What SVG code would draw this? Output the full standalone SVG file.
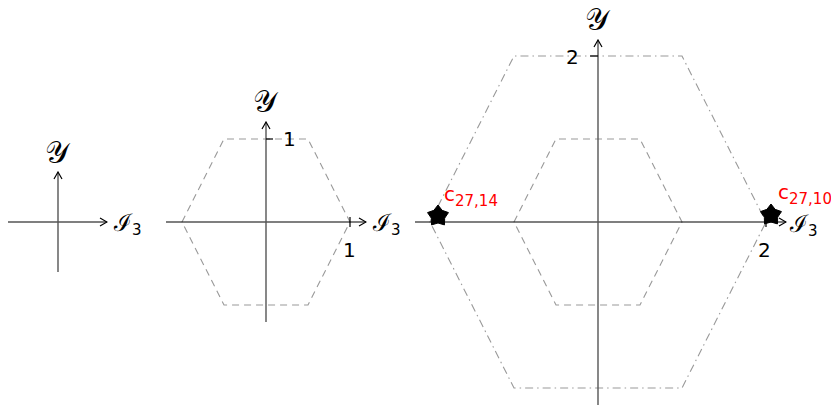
<svg xmlns="http://www.w3.org/2000/svg" width="831" height="405" viewBox="0 0 831 405">
<style>
.ax{stroke:#000;stroke-width:1.2;fill:none}
.ay{stroke:#555;stroke-width:1.4;fill:none}
.hd{stroke:#999;stroke-width:1.1;fill:none;stroke-dasharray:7 5}
.hdd{stroke:#999;stroke-width:1.1;fill:none;stroke-dasharray:8 4 1.5 4}
.ly{font-family:"DejaVu Serif","Liberation Serif",serif;font-size:30px;fill:#000}
.li{font-family:"DejaVu Serif","Liberation Serif",serif;font-size:24px;fill:#000}
.num{font-family:"DejaVu Sans","Liberation Sans",sans-serif;font-size:20px;fill:#000}
.red{font-family:"DejaVu Sans","Liberation Sans",sans-serif;font-size:20px;fill:#f00}
.sub{font-size:15px;font-family:"DejaVu Sans","Liberation Sans",sans-serif}
</style>
<defs>
<marker id="arr" viewBox="0 0 10 10" refX="9" refY="5" markerWidth="10" markerHeight="10" markerUnits="userSpaceOnUse" orient="auto">
<path d="M2,1 L9,5 L2,9" fill="none" stroke="#000" stroke-width="1.2"/>
</marker>
<path id="star" d="M0,-11 L4.11,-5.66 L10.46,-3.4 L6.66,2.16 L6.47,8.9 L0,7 L-6.47,8.9 L-6.66,2.16 L-10.46,-3.4 L-4.11,-5.66Z" fill="#000" stroke="#000" stroke-width="1" stroke-linejoin="round"/>
</defs>
<g id="connectors">
<line class="ax" x1="8" y1="222" x2="107" y2="222" marker-end="url(#arr)"/>
<line class="ay" x1="58" y1="272" x2="58" y2="172" marker-end="url(#arr)"/>
<polygon class="hd" points="182,222 224,139 308,139 350,222 308,305 224,305"/>
<line class="ax" x1="166" y1="222" x2="366" y2="222" marker-end="url(#arr)"/>
<line class="ay" x1="266" y1="322" x2="266" y2="122" marker-end="url(#arr)"/>
<line class="ax" x1="266" y1="139" x2="273" y2="139"/>
<line class="ax" x1="350" y1="217" x2="350" y2="227"/>
<polygon class="hdd" points="430,222 514,56 682,56 766,222 682,388 514,388"/>
<polygon class="hd" points="514,222 556,139 640,139 682,222 640,305 556,305"/>
<line class="ax" x1="415" y1="222" x2="786" y2="222" marker-end="url(#arr)"/>
<line class="ay" x1="598" y1="406" x2="598" y2="40" marker-end="url(#arr)"/>
<line class="ax" x1="590" y1="56" x2="598" y2="56"/>
<line class="ax" x1="766" y1="217" x2="766" y2="227"/>
</g>
<g id="labels1">
<text class="ly" x="45" y="163">𝒴</text>
<text class="li" x="114" y="231">ℐ<tspan class="sub" dy="4">3</tspan></text>
</g>
<g id="labels2">
<text class="ly" x="253" y="112">𝒴</text>
<text class="li" x="373" y="231">ℐ<tspan class="sub" dy="4">3</tspan></text>
<text class="num" x="283" y="146">1</text>
<text class="num" x="343" y="257">1</text>
</g>
<g id="labels3">
<text class="ly" x="585" y="30">𝒴</text>
<text class="li" x="790" y="232">ℐ<tspan class="sub" dy="4">3</tspan></text>
<text class="num" x="566" y="64">2</text>
<text class="num" x="758" y="257">2</text>
</g>
<g id="c27_14">
<use href="#star" x="438" y="216"/>
<text class="red" x="444" y="201">c<tspan class="sub" dy="5">27,14</tspan></text>
</g>
<g id="c27_10">
<use href="#star" x="771" y="215"/>
<text class="red" x="778" y="199">c<tspan class="sub" dy="5">27,10</tspan></text>
</g>
</svg>
